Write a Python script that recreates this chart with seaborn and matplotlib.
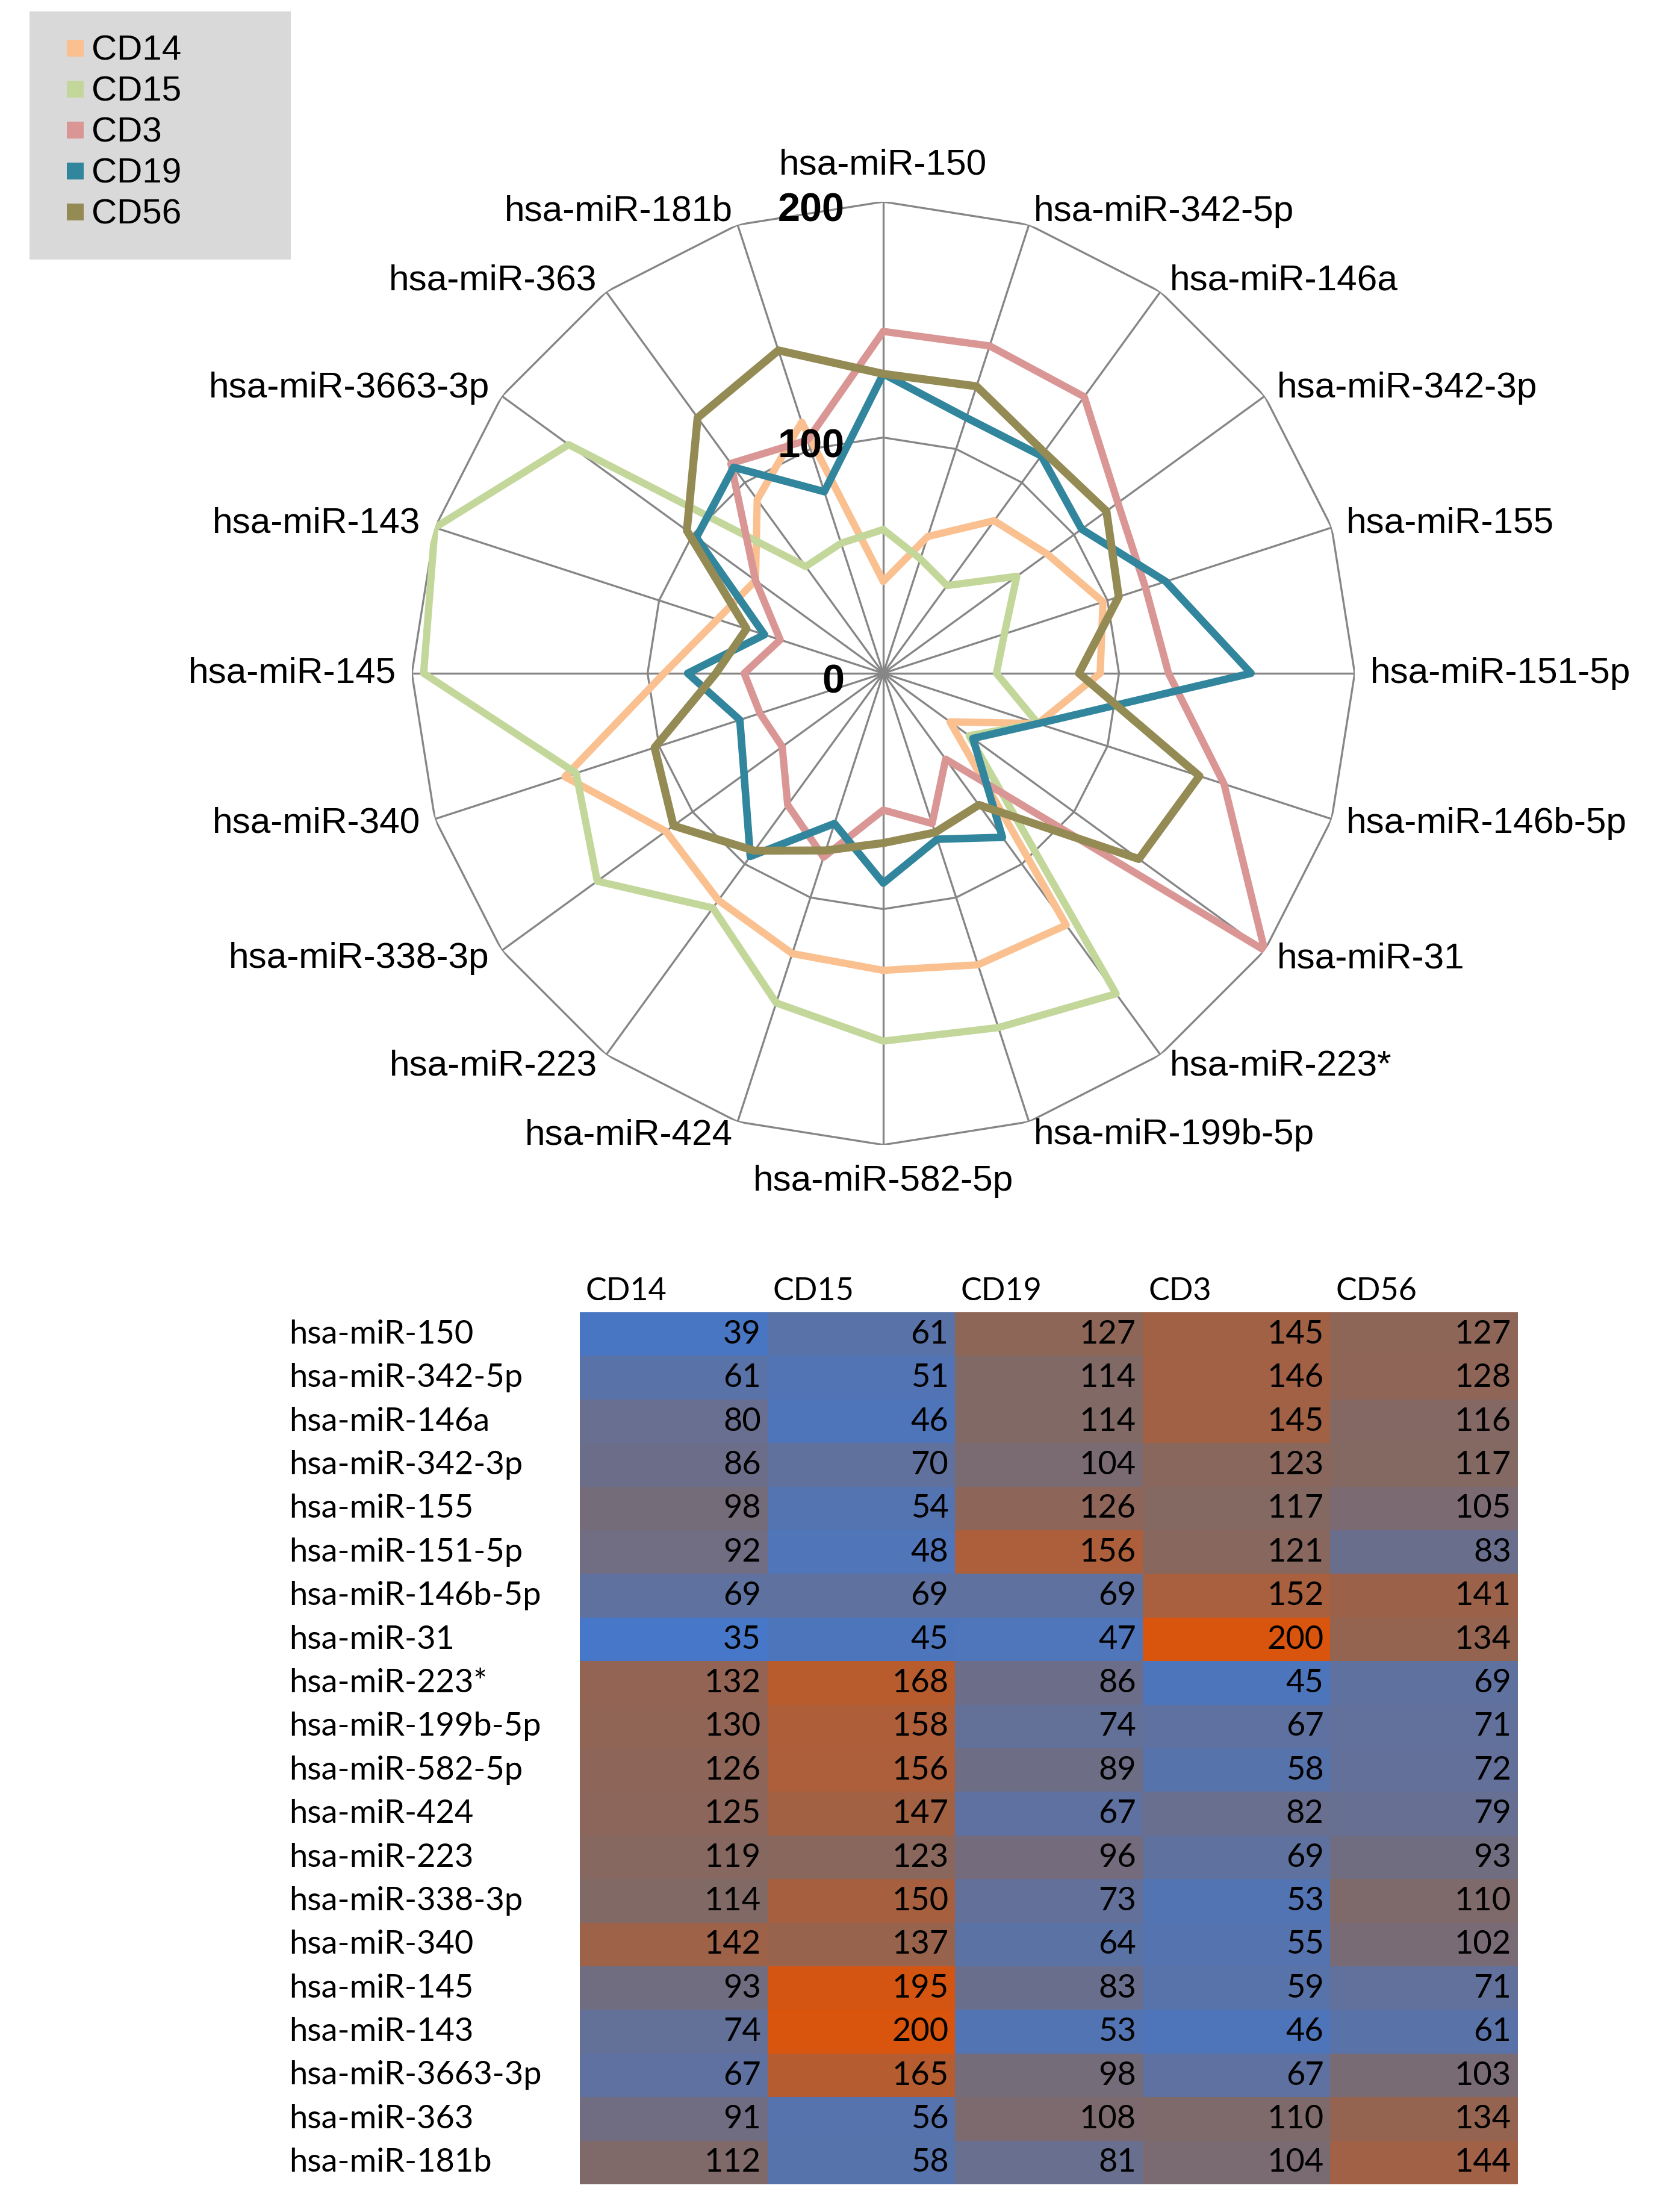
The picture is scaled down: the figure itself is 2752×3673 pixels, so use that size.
import numpy as np
import pandas as pd
import matplotlib.pyplot as plt
import seaborn as sns
from matplotlib.colors import LinearSegmentedColormap
from matplotlib.lines import Line2D
from matplotlib.patches import Rectangle

# --- settings ---
sns.set_style("white")
plt.rcParams["font.family"] = ["Liberation Sans", "DejaVu Sans"]
plt.rcParams["text.color"] = "black"
plt.rcParams["ytick.color"] = "black"
plt.rcParams["ytick.labelcolor"] = "black"
TABLE_FONT = ["Lato", "DejaVu Sans"]

# --- data (miRNA expression per cell type) ---
mirnas = ["hsa-miR-150", "hsa-miR-342-5p", "hsa-miR-146a", "hsa-miR-342-3p",
          "hsa-miR-155", "hsa-miR-151-5p", "hsa-miR-146b-5p", "hsa-miR-31",
          "hsa-miR-223*", "hsa-miR-199b-5p", "hsa-miR-582-5p", "hsa-miR-424",
          "hsa-miR-223", "hsa-miR-338-3p", "hsa-miR-340", "hsa-miR-145",
          "hsa-miR-143", "hsa-miR-3663-3p", "hsa-miR-363", "hsa-miR-181b"]
cd14 = [39, 61, 80, 86, 98, 92, 69, 35, 132, 130, 126, 125, 119, 114, 142, 93, 74, 67, 91, 112]
cd15 = [61, 51, 46, 70, 54, 48, 69, 45, 168, 158, 156, 147, 123, 150, 137, 195, 200, 165, 56, 58]
cd19 = [127, 114, 114, 104, 126, 156, 69, 47, 86, 74, 89, 67, 96, 73, 64, 83, 53, 98, 108, 81]
cd3 = [145, 146, 145, 123, 117, 121, 152, 200, 45, 67, 58, 82, 69, 53, 55, 59, 46, 67, 110, 104]
cd56 = [127, 128, 116, 117, 105, 83, 141, 134, 69, 71, 72, 79, 93, 110, 102, 71, 61, 103, 134, 144]

radar_order = ["CD14", "CD15", "CD3", "CD19", "CD56"]
table_order = ["CD14", "CD15", "CD19", "CD3", "CD56"]
ring_ticks = [0, 100, 200]

colors = {"CD14": "#FAC090", "CD15": "#C4D79B", "CD3": "#D99694",
          "CD19": "#31859C", "CD56": "#948A54"}
widths = {"CD14": 2.9, "CD15": 2.9, "CD3": 2.9, "CD19": 3.0, "CD56": 3.2}
grid_col = "#868686"

df = pd.DataFrame({"CD14": cd14, "CD15": cd15, "CD19": cd19, "CD3": cd3, "CD56": cd56},
                  index=mirnas)

W, H, DPI = 2753, 3673, 300
fig = plt.figure(figsize=(W / DPI, H / DPI), dpi=DPI)

# --- radar chart ---
cx, cy, rad = 1467, 1118, 783
ax = fig.add_axes([(cx - rad) / W, (H - cy - rad) / H, 2 * rad / W, 2 * rad / H],
                  projection="polar")
ax.set_theta_zero_location("N")
ax.set_theta_direction(-1)

n = len(mirnas)
theta = np.linspace(0, 2 * np.pi, n, endpoint=False)
theta_c = np.append(theta, theta[0])

for r in ring_ticks[1:]:
    ax.plot(theta_c, np.full(n + 1, r), color=grid_col, lw=0.8, zorder=1)
for t in theta:
    ax.plot([t, t], [0, ring_ticks[-1]], color=grid_col, lw=0.8, zorder=1)

for name in radar_order:
    vals = df[name].tolist()
    sns.lineplot(x=theta_c, y=vals + vals[:1], sort=False, estimator=None, ax=ax,
                 color=colors[name], lw=widths[name], zorder=3,
                 solid_joinstyle="round")

ax.set_ylim(0, ring_ticks[-1])
ax.set_xticks([])
ax.set_yticks([])
ax.grid(False)
ax.spines["polar"].set_visible(False)
ax.patch.set_alpha(0)
ax.set_xlabel("")
ax.set_ylabel("")

for t, name in zip(theta, mirnas):
    s, c = np.sin(t), np.cos(t)
    if abs(s) < 1e-6:
        ha, dx, dy = "center", 0, 14.6 * np.sign(c)
    else:
        ha = "left" if s > 0 else "right"
        dx, dy = 6.2 * s, 5.6 * c
    ax.annotate(name, xy=(t, ring_ticks[-1]), xytext=(dx, dy), textcoords="offset points",
                ha=ha, va="center", fontsize=14.5, color="black", annotation_clip=False)

for r in ring_ticks:
    ax.annotate(str(r), xy=(0, r), xytext=(-15.5, -3.8), textcoords="offset points",
                ha="right", va="center", fontsize=16, fontweight="bold", color="black",
                zorder=5)

# --- legend ---
fig.add_artist(Rectangle((49 / W, 1 - 431 / H), 434 / W, 412 / H,
                         transform=fig.transFigure, facecolor="#D9D9D9",
                         edgecolor="none", zorder=0))
handles = [Line2D([], [], ls="none", marker="s", markersize=6.5, color=colors[k],
                  markeredgewidth=0) for k in radar_order]
leg = fig.legend(handles, radar_order, loc="upper left", bbox_to_anchor=(110 / W, 1 - 58 / H),
                 frameon=False, borderpad=0, borderaxespad=0, handlelength=0.5,
                 handletextpad=0.22, labelspacing=0.24, fontsize=14)
for txt in leg.get_texts():
    txt.set_color("black")

# --- table heatmap ---
hax = fig.add_axes([963 / W, (H - 3627) / H, (2521 - 963) / W, (3627 - 2179) / H])
tab = df[table_order]
cmap = LinearSegmentedColormap.from_list("blue_orange", ["#4677C8", "#846862", "#D9540C"])
sns.heatmap(tab, ax=hax, cmap=cmap, vmin=tab.values.min(), vmax=tab.values.max(),
            cbar=False, xticklabels=False, yticklabels=tab.index.tolist())
hax.tick_params(axis="y", length=0, pad=116, labelcolor="black")
for lab in hax.get_yticklabels():
    lab.set_ha("left")
    lab.set_rotation(0)
    lab.set_family(TABLE_FONT)
    lab.set_fontsize(13)
hax.set_xlabel("")
hax.set_ylabel("")

for j, col in enumerate(tab.columns):
    hax.text(j + 0.03, -0.48, col, ha="left", va="center", fontsize=12.5,
             family=TABLE_FONT, color="black")
    for i, v in enumerate(tab[col]):
        hax.text(j + 1 - 0.035, i + 0.5, str(v), ha="right", va="center",
                 fontsize=13, family=TABLE_FONT, color="black")

fig.savefig("out.png", dpi=DPI)
